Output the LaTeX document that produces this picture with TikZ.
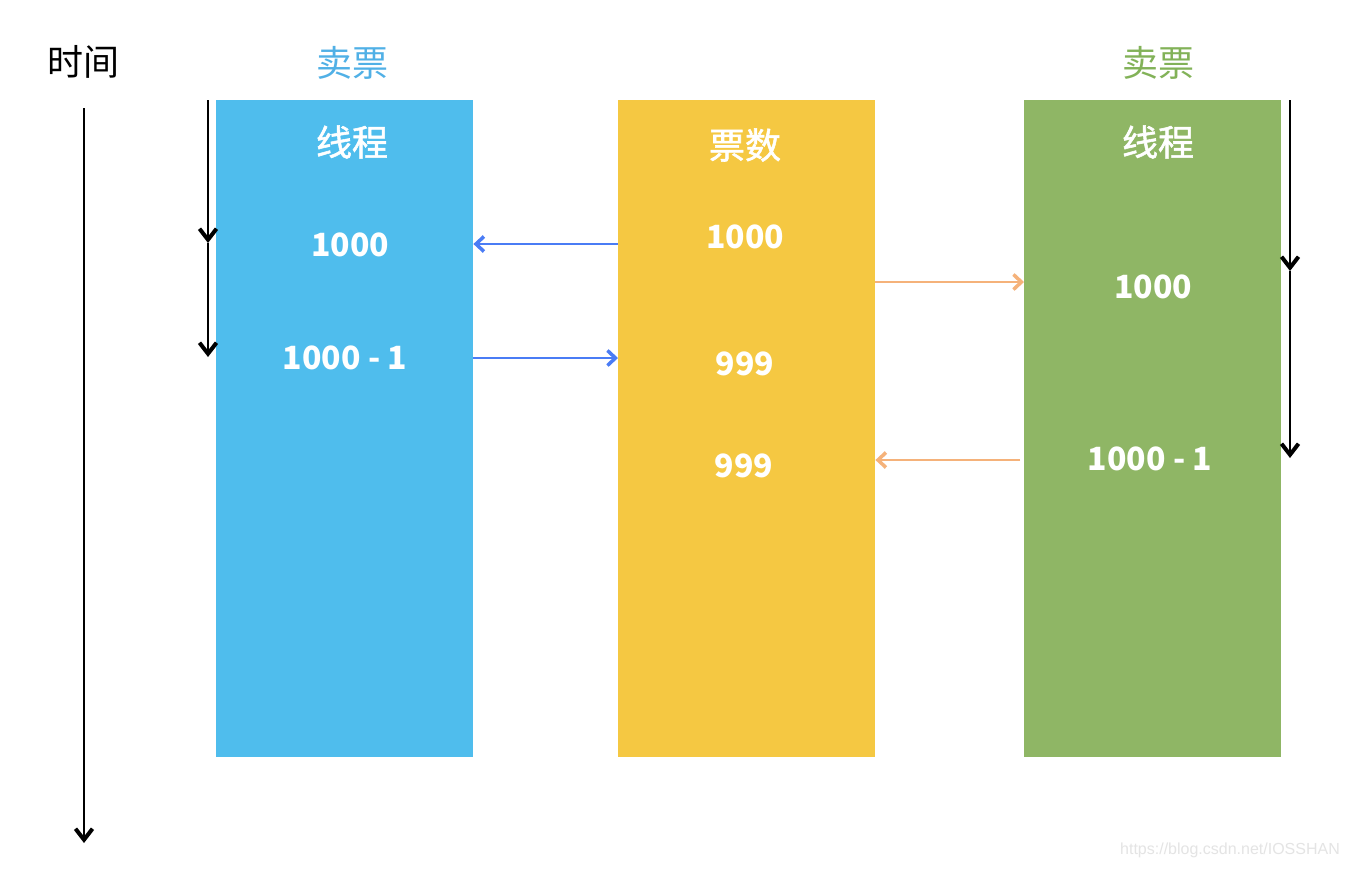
\documentclass[tikz,border=0pt]{standalone}
\usepackage{fontspec}
\setmainfont{Noto Sans CJK SC}
\newfontfamily\medfont{Noto Sans CJK SC}[FakeBold=1.5]
\newfontfamily\wmfont{Liberation Sans}
\usetikzlibrary{arrows.meta}
\definecolor{cblue}{RGB}{79,189,237}
\definecolor{cyellow}{RGB}{245,200,66}
\definecolor{cgreen}{RGB}{143,182,101}
\definecolor{tblue}{RGB}{80,176,230}
\definecolor{tgreen}{RGB}{130,178,88}
\definecolor{abl}{RGB}{74,124,245}
\definecolor{aor}{RGB}{245,178,122}
\tikzset{
  colbox/.style={draw=none, minimum width=257pt, minimum height=657pt, inner sep=0pt, anchor=north west},
  lbl/.style={text=white, font=\fontsize{32}{36}\selectfont\bfseries, inner sep=0pt},
  hdr/.style={text=white, font=\medfont\fontsize{36}{40}\selectfont, inner sep=0pt},
  ttl/.style={font=\fontsize{36}{40}\selectfont, inner sep=0pt},
  tarrow/.style={-{Straight Barb[length=11pt, width=17pt, line width=4pt 0]}, line width=2.2pt, black},
  barrow/.style={-{Straight Barb[length=8pt, width=15pt, line width=3.5pt 0]}, line width=2pt, abl},
  oarrow/.style={-{Straight Barb[length=8pt, width=15pt, line width=3.5pt 0]}, line width=2pt, aor},
}
\begin{document}
\begin{tikzpicture}[x=1pt, y=-1pt]
\useasboundingbox[fill=white] (0,0) rectangle (1348,868);
% columns
\node[colbox, fill=cblue] (bluebox) at (216,100) {};
\node[colbox, fill=cyellow] (ybox) at (618,100) {};
\node[colbox, fill=cgreen] (gbox) at (1024,100) {};
% titles
\node[ttl] (time) at (83,62) {时间};
\node[ttl, text=tblue] (t1) at (352,63) {卖票};
\node[ttl, text=tgreen] (t2) at (1158,63) {卖票};
% column labels
\node[hdr] (h1) at (352,142) {线程};
\node[hdr] (h2) at (745,145) {票数};
\node[hdr] (h3) at (1158,142) {线程};
\node[lbl] (b1) at (350,245) {1000};
\node[lbl] (b2) at (345,358) {1000 - 1};
\node[lbl] (y1) at (745,237) {1000};
\node[lbl] (y2) at (745,364) {999};
\node[lbl] (y3) at (744,466) {999};
\node[lbl] (g1) at (1153,287) {1000};
\node[lbl] (g2) at (1150,459) {1000 - 1};
% time axes
\coordinate (ts) at (84,108);
\coordinate (te) at (84,843);
\draw[tarrow] (ts) -- (te);
\coordinate (l0) at (208,100);
\coordinate (l1) at (208,243);
\coordinate (l2) at (208,357);
\draw[tarrow] (l0) -- (l1);
\draw[tarrow] (l1) -- (l2);
\coordinate (r0) at (1290,100);
\coordinate (r1) at (1290,271);
\coordinate (r2) at (1290,458);
\draw[tarrow] (r0) -- (r1);
\draw[tarrow] (r1) -- (r2);
% transfer arrows
\draw[barrow] (ybox.west |- 0,244) -- (bluebox.east |- 0,244);
\draw[barrow] (bluebox.east |- 0,358) -- (ybox.west |- 0,358);
\draw[oarrow] (ybox.east |- 0,282) -- (gbox.west |- 0,282);
\draw[oarrow] ([xshift=-4pt]gbox.west |- 0,460) -- (ybox.east |- 0,460);
% watermark
\node[text={rgb,255:red,228;green,228;blue,228}, font=\wmfont\fontsize{16}{18}\selectfont, inner sep=0pt] (wm) at (1230,850) {https://blog.csdn.net/IOSSHAN};
\end{tikzpicture}
\end{document}
